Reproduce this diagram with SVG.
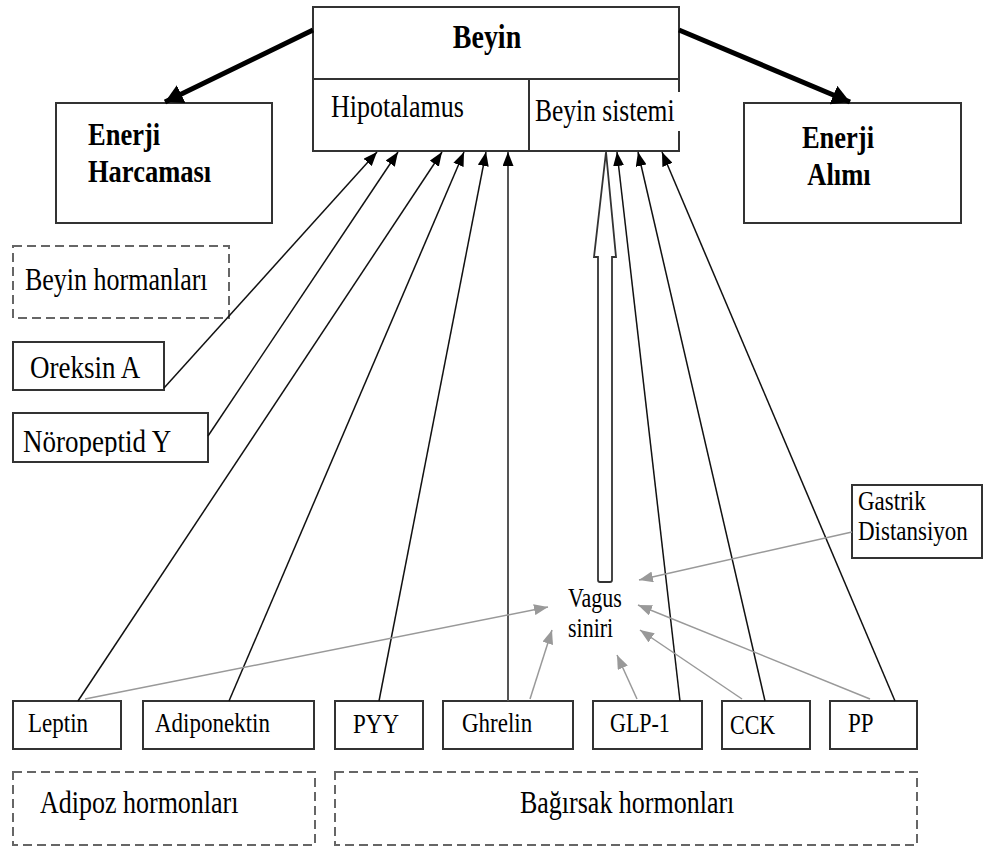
<svg xmlns="http://www.w3.org/2000/svg" width="984" height="847" viewBox="0 0 984 847">
  <style>
    text { font-family: "Liberation Serif", "Times New Roman", serif; fill: #000; }
    .b { font-weight: bold; }
    .box { fill: #fff; stroke: #333; stroke-width: 2; }
    .dash { fill: #fff; stroke: #666; stroke-width: 2; stroke-dasharray: 9 5; }
    .thin { stroke: #111; stroke-width: 1.5; fill: none; }
    .grey { stroke: #999; stroke-width: 1.5; fill: none; }
    .thick { stroke: #000; stroke-width: 5; fill: none; }
  </style>
  <defs>
    <marker id="ah" markerUnits="userSpaceOnUse" markerWidth="14" markerHeight="11" refX="14" refY="5.5" orient="auto">
      <path d="M0,0 L14,5.5 L0,11 z" fill="#000"/>
    </marker>
    <marker id="ahg" markerUnits="userSpaceOnUse" markerWidth="14" markerHeight="11" refX="14" refY="5.5" orient="auto">
      <path d="M0,0 L14,5.5 L0,11 z" fill="#999"/>
    </marker>
    <marker id="ahb" markerUnits="userSpaceOnUse" markerWidth="18" markerHeight="20" refX="18" refY="10" orient="auto">
      <path d="M0,0 L18,10 L0,20 z" fill="#000"/>
    </marker>
    <!-- label frame of the NPY box cuts the descenders -->
    <clipPath id="npyClip"><rect x="13" y="413" width="195" height="43"/></clipPath>
  </defs>

  <!-- brain block -->
  <g id="beyin">
    <rect x="313" y="7" width="366" height="144" fill="#fff" stroke="none"/>
    <path d="M679,92 V7 H313 V151 H679 V131" fill="none" stroke="#333" stroke-width="2"/>
    <line x1="313" y1="79" x2="679" y2="79" stroke="#333" stroke-width="2"/>
    <line x1="529" y1="79" x2="529" y2="151" stroke="#333" stroke-width="2"/>
    <text class="b" font-size="28" text-anchor="middle" transform="translate(487,48) scale(1,1.2)">Beyin</text>
  </g>
  <g id="hipotalamus">
    <text font-size="26" transform="translate(331,117) scale(1,1.2)">Hipotalamus</text>
  </g>
  <g id="beyin-sistemi">
    <text font-size="25.5" transform="translate(535,121) scale(1,1.2)">Beyin sistemi</text>
  </g>

  <!-- energy outputs -->
  <g id="enerji-harcamasi">
    <rect class="box" x="56" y="103" width="216" height="120"/>
    <text class="b" font-size="26.5" transform="translate(88,145) scale(1,1.2)">Enerji</text>
    <text class="b" font-size="26.5" transform="translate(88,182) scale(1,1.2)">Harcaması</text>
  </g>
  <g id="enerji-alimi">
    <rect class="box" x="744" y="103" width="217" height="120"/>
    <text class="b" font-size="26.5" text-anchor="middle" transform="translate(838,148) scale(1,1.2)">Enerji</text>
    <text class="b" font-size="26.5" text-anchor="middle" transform="translate(839,185) scale(1,1.2)">Alımı</text>
  </g>

  <!-- brain hormones -->
  <g id="beyin-hormanlari">
    <rect class="dash" x="13" y="246" width="216" height="72"/>
    <text font-size="26" transform="translate(25,290) scale(1,1.2)">Beyin hormanları</text>
  </g>
  <g id="oreksin-a">
    <rect class="box" x="13" y="342" width="151" height="48"/>
    <text font-size="27" transform="translate(30,378) scale(1,1.2)">Oreksin A</text>
  </g>
  <g id="noropeptid-y">
    <rect class="box" x="13" y="413" width="195" height="49"/>
    <g clip-path="url(#npyClip)">
      <text font-size="27" transform="translate(23,452) scale(1,1.2)">Nöropeptid Y</text>
    </g>
  </g>

  <!-- gastric distension -->
  <g id="gastrik-distansiyon">
    <rect class="box" x="852" y="485" width="130" height="73"/>
    <text font-size="23" transform="translate(858,510) scale(1,1.2)">Gastrik</text>
    <text font-size="23" transform="translate(858,540) scale(1,1.2)">Distansiyon</text>
  </g>

  <!-- vagus nerve -->
  <g id="vagus-siniri">
    <text font-size="22" transform="translate(568,607) scale(1,1.2)">Vagus</text>
    <text font-size="22" transform="translate(568,637) scale(1,1.2)">siniri</text>
  </g>

  <!-- peripheral hormones -->
  <g id="leptin">
    <rect class="box" x="13" y="701" width="108" height="48"/>
    <text font-size="23" transform="translate(28,732) scale(1,1.2)">Leptin</text>
  </g>
  <g id="adiponektin">
    <rect class="box" x="143" y="701" width="171" height="48"/>
    <text font-size="23" transform="translate(155,732) scale(1,1.2)">Adiponektin</text>
  </g>
  <g id="pyy">
    <rect class="box" x="335" y="701" width="88" height="48"/>
    <text font-size="23" transform="translate(353,733) scale(1,1.2)">PYY</text>
  </g>
  <g id="ghrelin">
    <rect class="box" x="443" y="701" width="130" height="48"/>
    <text font-size="23" transform="translate(462,732) scale(1,1.2)">Ghrelin</text>
  </g>
  <g id="glp-1">
    <rect class="box" x="593" y="701" width="109" height="48"/>
    <text font-size="22" transform="translate(610,732) scale(1,1.2)">GLP-1</text>
  </g>
  <g id="cck">
    <rect class="box" x="722" y="701" width="88" height="48"/>
    <text font-size="22" transform="translate(730,734) scale(1,1.2)">CCK</text>
  </g>
  <g id="pp">
    <rect class="box" x="830" y="701" width="87" height="48"/>
    <text font-size="23" transform="translate(848,732) scale(1,1.2)">PP</text>
  </g>

  <!-- hormone groups -->
  <g id="adipoz-hormonlari">
    <rect class="dash" x="13" y="772" width="302" height="73"/>
    <text font-size="26" transform="translate(40,813) scale(1,1.2)">Adipoz hormonları</text>
  </g>
  <g id="bagirsak-hormonlari">
    <rect class="dash" x="335" y="772" width="582" height="73"/>
    <text font-size="26" transform="translate(520,813) scale(1,1.2)">Bağırsak hormonları</text>
  </g>

  <!-- connectors -->
  <g id="connectors">
    <!-- brain outputs -->
    <line class="thick" x1="313" y1="30" x2="165" y2="102" marker-end="url(#ahb)"/>
    <line class="thick" x1="679" y1="30" x2="850" y2="102" marker-end="url(#ahb)"/>

    <!-- signals to hypothalamus -->
    <line class="thin" x1="164" y1="388" x2="377" y2="152" marker-end="url(#ah)"/>
    <line class="thin" x1="208" y1="436" x2="398" y2="152" marker-end="url(#ah)"/>
    <line class="thin" x1="78" y1="701" x2="442" y2="152" marker-end="url(#ah)"/>
    <line class="thin" x1="229" y1="701" x2="464" y2="152" marker-end="url(#ah)"/>
    <line class="thin" x1="379" y1="701" x2="486" y2="152" marker-end="url(#ah)"/>
    <line x1="508" y1="701" x2="508" y2="152" stroke="#555" stroke-width="2" marker-end="url(#ah)"/>

    <!-- signals to brain stem -->
    <line class="thin" x1="680" y1="701" x2="617" y2="152" marker-end="url(#ah)"/>
    <line class="thin" x1="765" y1="701" x2="638" y2="152" marker-end="url(#ah)"/>
    <line class="thin" x1="895" y1="701" x2="662" y2="152" marker-end="url(#ah)"/>

    <!-- vagal afferent (hollow block arrow) -->
    <path d="M606,152 L616,257 L612,257 L612,580 Q612,582 610,582 L600,582 Q598,582 598,580 L598,257 L594,257 Z" fill="#fff" stroke="#333" stroke-width="1.8" stroke-linejoin="miter"/>

    <!-- inputs to vagus nerve -->
    <line class="grey" x1="85" y1="699" x2="548" y2="607" marker-end="url(#ahg)"/>
    <line class="grey" x1="530" y1="699" x2="552" y2="630" marker-end="url(#ahg)"/>
    <line class="grey" x1="637" y1="699" x2="617" y2="655" marker-end="url(#ahg)"/>
    <line class="grey" x1="742" y1="699" x2="640" y2="630" marker-end="url(#ahg)"/>
    <line class="grey" x1="870" y1="699" x2="638" y2="605" marker-end="url(#ahg)"/>
    <line class="grey" x1="852" y1="532" x2="639" y2="580" marker-end="url(#ahg)"/>
  </g>
</svg>
